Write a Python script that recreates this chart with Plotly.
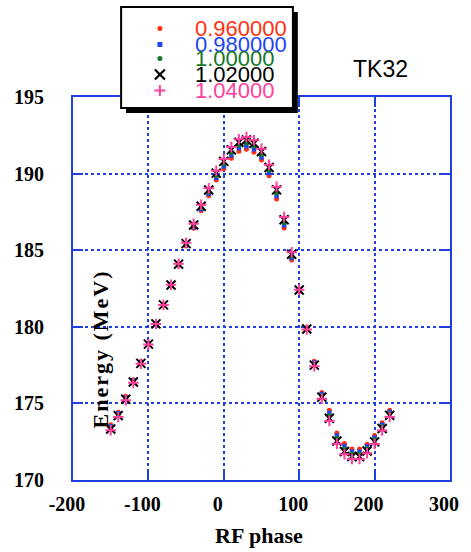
import plotly.graph_objects as go

# ---------------- data ----------------
phase = [-150, -140, -130, -120, -110, -100, -90, -80, -70, -60, -50, -40, -30, -20, -10,
         0, 10, 20, 30, 40, 50, 60, 70, 80, 90, 100, 110, 120, 130, 140, 150, 160, 170,
         180, 190, 200, 210, 220]

e_096 = [173.60, 174.42, 175.46, 176.55, 177.73, 178.94, 180.23, 181.43, 182.70, 184.01,
         185.28, 186.43, 187.57, 188.55, 189.58, 190.31, 191.01, 191.46, 191.59, 191.39,
         190.88, 189.86, 188.34, 186.45, 184.36, 182.32, 179.93, 177.75, 175.71, 174.55,
         173.07, 172.38, 172.02, 172.02, 172.34, 172.90, 173.73, 174.56]
e_098 = [173.51, 174.35, 175.39, 176.50, 177.69, 178.92, 180.21, 181.43, 182.71, 184.04,
         185.33, 186.50, 187.67, 188.68, 189.73, 190.47, 191.19, 191.66, 191.79, 191.59,
         191.06, 190.04, 188.54, 186.63, 184.49, 182.35, 179.91, 177.66, 175.61, 174.38,
         172.90, 172.21, 171.85, 171.85, 172.19, 172.77, 173.61, 174.44]
e_100 = [173.42, 174.27, 175.33, 176.45, 177.65, 178.89, 180.20, 181.43, 182.72, 184.06,
         185.38, 186.58, 187.77, 188.80, 189.88, 190.64, 191.37, 191.85, 191.99, 191.78,
         191.25, 190.22, 188.74, 186.81, 184.61, 182.37, 179.88, 177.58, 175.51, 174.20,
         172.72, 172.03, 171.69, 171.69, 172.04, 172.63, 173.48, 174.33]
e_102 = [173.33, 174.20, 175.27, 176.40, 177.61, 178.87, 180.19, 181.43, 182.73, 184.09,
         185.43, 186.65, 187.87, 188.93, 190.03, 190.80, 191.55, 192.05, 192.19, 191.98,
         191.44, 190.40, 188.94, 186.99, 184.74, 182.40, 179.86, 177.50, 175.41, 174.03,
         172.55, 171.86, 171.53, 171.53, 171.89, 172.49, 173.36, 174.22]
e_104 = [173.25, 174.12, 175.21, 176.35, 177.58, 178.84, 180.18, 181.43, 182.75, 184.11,
         185.48, 186.73, 187.97, 189.05, 190.18, 190.96, 191.73, 192.24, 192.39, 192.17,
         191.63, 190.58, 189.14, 187.17, 184.86, 182.42, 179.83, 177.42, 175.31, 173.85,
         172.37, 171.68, 171.37, 171.37, 171.74, 172.35, 173.23, 174.11]

series_names = ["0.960000", "0.980000", "1.00000", "1.02000", "1.04000"]
series_values = [e_096, e_098, e_100, e_102, e_104]
x_ticks = [-200, -100, 0, 100, 200, 300]
y_ticks = [170, 175, 180, 185, 190, 195]

# ---------------- styles ----------------
colors = ["#ff3010", "#1f45f0", "#16782a", "#000000", "#ff3f9c"]
symbols = ["circle", "square", "circle", "x-thin", "cross-thin"]
sizes = [5, 4.5, 5, 9, 7.5]
BLUE = "#1f3fe0"

W, H = 471, 552
ML, MR, MT, MB = 73, 14, 97, 72
PW, PH = W - ML - MR, H - MT - MB


def px(xp):
    return (xp - ML) / PW


def py(yp):
    return (H - MB - yp) / PH


fig = go.Figure()
for name, vals, c, s, sz in zip(series_names, series_values, colors, symbols, sizes):
    if s.endswith("thin"):
        marker = dict(symbol=s, size=sz, color=c, line=dict(color=c, width=2.0))
    else:
        marker = dict(symbol=s, size=sz, color=c, line=dict(width=0))
    fig.add_trace(go.Scatter(x=phase, y=vals, mode="markers", name=name,
                             marker=marker, showlegend=False, cliponaxis=False))

tickfont = dict(family="Liberation Serif", size=20, color="black", weight="bold")
fig.update_xaxes(range=[-200, 300], tickvals=x_ticks, ticktext=[str(v) for v in x_ticks],
                 showgrid=True, gridcolor=BLUE, griddash="dot", gridwidth=1.5,
                 showline=True, linecolor=BLUE, linewidth=2, mirror="ticks",
                 ticks="inside", ticklen=10, tickwidth=2, tickcolor=BLUE,
                 zeroline=False, tickfont=tickfont, ticklabelstandoff=5,
                 ticklabelshift=-6, ticklabeloverflow="allow")
fig.update_yaxes(range=[170, 195], tickvals=y_ticks, ticktext=[str(v) for v in y_ticks],
                 showgrid=True, gridcolor=BLUE, griddash="dot", gridwidth=1.5,
                 showline=True, linecolor=BLUE, linewidth=2, mirror="ticks",
                 ticks="inside", ticklen=10, tickwidth=2, tickcolor=BLUE,
                 zeroline=False, tickfont=tickfont, ticklabelstandoff=23)

shapes = []
# legend shadow and box
shapes.append(dict(type="rect", xref="paper", yref="paper", x0=px(127), x1=px(302),
                   y0=py(113), y1=py(12), fillcolor="black", line=dict(width=0), layer="above"))
shapes.append(dict(type="rect", xref="paper", yref="paper", x0=px(122), x1=px(297),
                   y0=py(108), y1=py(7), fillcolor="white", line=dict(color="black", width=2),
                   layer="above"))

row_y = [28.5, 44.5, 58.5, 74.5, 90.5]
mx = 161.5
annotations = []
for i, (name, c, s) in enumerate(zip(series_names, colors, symbols)):
    yy = row_y[i]
    base = dict(xref="paper", yref="paper", xsizemode="pixel", ysizemode="pixel",
                xanchor=px(mx), yanchor=py(yy), layer="above")
    if s == "circle":
        shapes.append(dict(type="circle", x0=-2.5, x1=2.5, y0=-2.5, y1=2.5,
                           fillcolor=c, line=dict(width=0), **base))
    elif s == "square":
        shapes.append(dict(type="rect", x0=-2.5, x1=2.5, y0=-2.5, y1=2.5,
                           fillcolor=c, line=dict(width=0), **base))
    elif s == "x-thin":
        shapes.append(dict(type="line", x0=-5, x1=5, y0=-5, y1=5, line=dict(color=c, width=2.2), **base))
        shapes.append(dict(type="line", x0=-5, x1=5, y0=5, y1=-5, line=dict(color=c, width=2.2), **base))
    else:
        shapes.append(dict(type="line", x0=-5.5, x1=5.5, y0=0, y1=0, line=dict(color=c, width=2), **base))
        shapes.append(dict(type="line", x0=0, x1=0, y0=-5.5, y1=5.5, line=dict(color=c, width=2), **base))
    annotations.append(dict(xref="paper", yref="paper", x=px(195), y=py(yy), xanchor="left",
                            yanchor="middle", text=name, showarrow=False,
                            font=dict(family="Liberation Sans", size=22, color=c)))

annotations.append(dict(xref="paper", yref="paper", x=px(386), y=py(68.5), xanchor="center",
                        yanchor="middle", text="TK32", showarrow=False,
                        font=dict(family="Liberation Sans", size=23, color="black")))
annotations.append(dict(xref="paper", yref="paper", x=px(262), y=py(535), xanchor="center",
                        yanchor="middle", text="RF phase", showarrow=False,
                        font=dict(family="Liberation Serif", size=22, color="black", weight="bold")))
annotations.append(dict(xref="paper", yref="paper", x=px(100), y=py(349), xanchor="center",
                        yanchor="middle",
                        text="<span style='letter-spacing:2px'>Energy (MeV)</span>",
                        showarrow=False, textangle=-90,
                        font=dict(family="Liberation Serif", size=22, color="black", weight="bold")))

fig.update_layout(width=W, height=H, margin=dict(l=ML, r=MR, t=MT, b=MB, pad=0),
                  paper_bgcolor="white", plot_bgcolor="white",
                  shapes=shapes, annotations=annotations, showlegend=False)

fig.write_html("out.html", config=dict(displayModeBar=False))
